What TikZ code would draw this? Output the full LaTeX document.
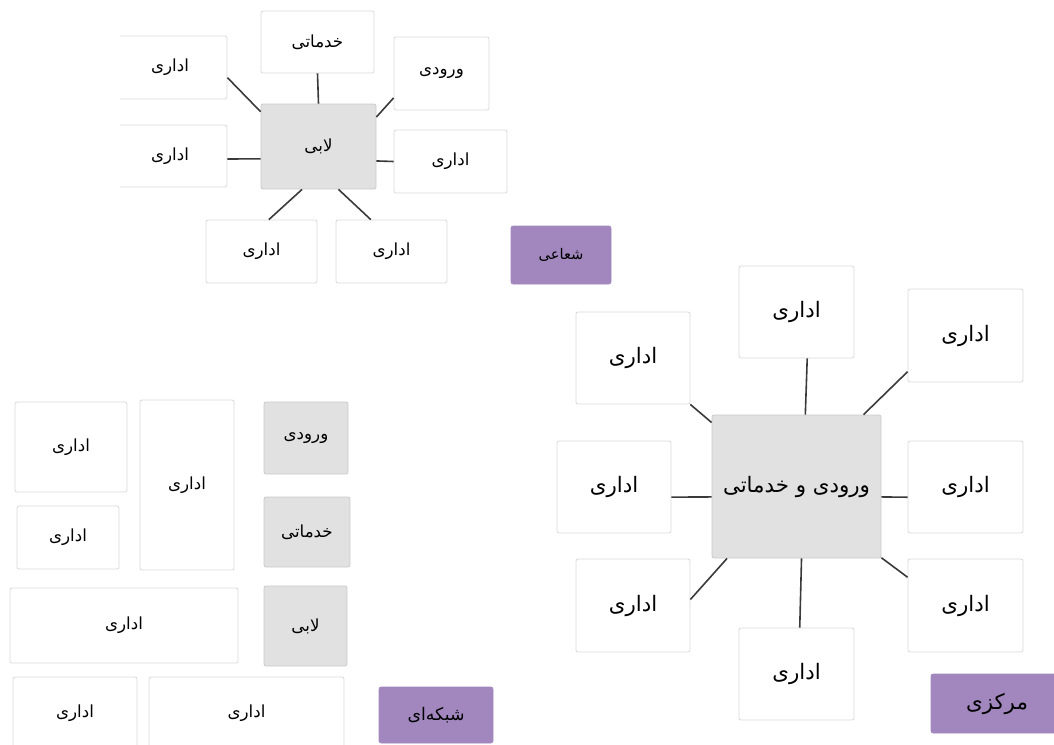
\documentclass[tikz,border=0pt]{standalone}
\usepackage{fontspec}
\newfontfamily\arabicfont[Script=Arabic]{DejaVu Sans}
\TeXXeTstate=1
\newcommand{\fatext}[1]{{\arabicfont\beginR #1\endR}}
\definecolor{boxline}{HTML}{D9D9D9}
\definecolor{hubgray}{HTML}{E1E1E1}
\definecolor{hubline}{HTML}{CACACA}
\definecolor{tagpurple}{HTML}{A287BF}
\definecolor{linkgray}{HTML}{3A3A3A}
\begin{document}
\begin{tikzpicture}[x=0.75pt, y=-0.75pt, line join=round,
    box/.style={draw=boxline, fill=white, rounded corners=1.5pt, line width=0.6pt, inner sep=0pt},
    hub/.style={box, draw=hubline, fill=hubgray},
    tag/.style={draw=tagpurple, fill=tagpurple, rounded corners=1.5pt, inner sep=0pt},
    sz/.style 2 args={minimum width=#1*0.75pt, minimum height=#2*0.75pt},
    small/.style={font=\fontsize{12.5}{14}\selectfont},
    big/.style={font=\fontsize{16}{19}\selectfont},
    link/.style={draw=linkgray, line width=1.2pt}]
\clip (0,0) rectangle (1054,744);
% radial
\begin{scope}
	\clip (120,0) rectangle (1054,744);
	\node[box, sz={114}{63}, small] (r1) at (170,67.5) {\fatext{اداری}};
	\node[box, sz={114}{62}, small] (r2) at (170,156) {\fatext{اداری}};
\end{scope}
\node[box, sz={113}{62}, small] (rs) at (317.5,42) {\fatext{خدماتی}};
\node[box, sz={95}{73}, small] (re) at (441.5,73.5) {\fatext{ورودی}};
\node[hub, sz={115}{85}, small] (rl) at (318.5,146.5) {\fatext{لابی}};
\node[box, sz={113}{63}, small] (r3) at (450.5,161.5) {\fatext{اداری}};
\node[box, sz={111}{63}, small] (r4) at (261.5,251.5) {\fatext{اداری}};
\node[box, sz={111}{63}, small] (r5) at (391.5,251.5) {\fatext{اداری}};
\node[tag, sz={100}{58}, font=\fontsize{11}{13}\selectfont] (t1) at (561,255) {\fatext{شعاعی}};
\draw[link] (r1.-10) -- (rl.149);
\draw[link] (rs.south) -- (rl.north);
\draw[link] (re.-153) -- (rl.27);
\draw[link] (r2.-3) -- (rl.192);
\draw[link] (r3.west) -- (rl.-14);
\draw[link] (rl.-111) -- (r4.77);
\draw[link] (rl.-65) -- (r5.123);
% network
\node[box, sz={112}{90}, small] (n1) at (71,447) {\fatext{اداری}};
\node[box, sz={102}{63}, small] (n2) at (68,537.5) {\fatext{اداری}};
\node[box, sz={94}{170}, small] (n3) at (187,485) {\fatext{اداری}};
\node[box, sz={228}{75}, small] (n4) at (124,625.5) {\fatext{اداری}};
\node[box, sz={124}{72}, small] (n5) at (75,713) {\fatext{اداری}};
\node[box, sz={195}{72}, small] (n6) at (246.5,713) {\fatext{اداری}};
\node[hub, sz={84}{72}, small] (ne) at (306,438) {\fatext{ورودی}};
\node[hub, sz={86}{70}, small] (ns) at (307,532) {\fatext{خدماتی}};
\node[hub, sz={83}{80}, small] (nl) at (305.5,626) {\fatext{لابی}};
\node[tag, sz={114}{56}, font=\fontsize{13}{15}\selectfont] (t2) at (436,715) {\fatext{شبکه‌ای}};
% central
\node[hub, sz={169}{143}, big] (c) at (796.5,486.5) {\fatext{ورودی و خدماتی}};
\node[box, sz={115}{92}, big] (c1) at (796.5,312) {\fatext{اداری}};
\node[box, sz={115}{93}, big] (c2) at (965.5,335.5) {\fatext{اداری}};
\node[box, sz={114}{92}, big] (c3) at (633,358) {\fatext{اداری}};
\node[box, sz={114}{92}, big] (c4) at (614,487) {\fatext{اداری}};
\node[box, sz={115}{92}, big] (c5) at (965.5,487) {\fatext{اداری}};
\node[box, sz={114}{93}, big] (c6) at (633,605.5) {\fatext{اداری}};
\node[box, sz={115}{93}, big] (c7) at (965.5,605.5) {\fatext{اداری}};
\node[box, sz={115}{92}, big] (c8) at (796.5,674) {\fatext{اداری}};
\node[tag, sz={132}{59}, big] (t3) at (997,703.5) {\fatext{مرکزی}};
\draw[link] (c1.-77) -- (c.83);
\draw[link] (c2.-148) -- (c.47);
\draw[link] (c3.-39) -- (c.143);
\draw[link] (c4.-10) -- (c.187);
\draw[link] (c5.190) -- (c.-7);
\draw[link] (c.-134) -- (c6.6);
\draw[link] (c.-40) -- (c7.154);
\draw[link] (c.-86) -- (c8.86);
\end{tikzpicture}
\end{document}
